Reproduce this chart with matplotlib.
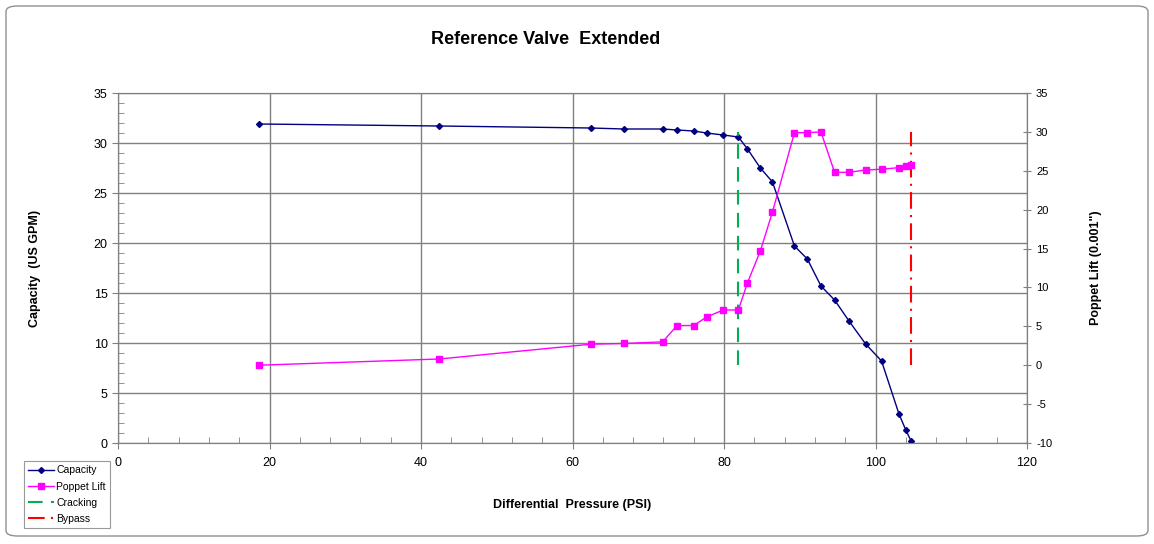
import numpy as np
import matplotlib.pyplot as plt
from matplotlib.patches import FancyBboxPatch
from matplotlib.ticker import MultipleLocator

plt.rcParams['font.family'] = ['Liberation Sans', 'DejaVu Sans']
plt.rcParams['axes.unicode_minus'] = False

# Differential pressure (PSI) for each measurement
pressure = [18.6, 42.4, 62.4, 66.8, 71.9, 73.8, 76.0, 77.7, 79.9, 81.9,
            83.1, 84.8, 86.4, 89.3, 91.0, 92.8, 94.6, 96.5, 98.7, 100.8,
            103.1, 104.0, 104.7]
# Capacity (US GPM)
capacity = [31.9, 31.7, 31.5, 31.4, 31.4, 31.3, 31.2, 31.0, 30.8, 30.6,
            29.4, 27.5, 26.1, 19.7, 18.4, 15.7, 14.3, 12.2, 9.9, 8.2,
            2.9, 1.3, 0.2]
# Poppet lift (0.001")
lift_p = [18.6, 42.4, 62.4, 66.8, 71.9, 73.8, 76.0, 77.7, 79.9, 81.9,
          83.1, 84.8, 86.4, 89.3, 91.0, 92.8, 94.6, 96.5, 98.7, 100.8,
          103.1, 104.0, 104.7]
lift = [0.0, 0.8, 2.7, 2.8, 3.0, 5.1, 5.1, 6.2, 7.1, 7.1,
        10.6, 14.7, 19.7, 29.9, 29.9, 30.0, 24.8, 24.8, 25.1, 25.2,
        25.4, 25.6, 25.7]

cracking_x = 81.9
bypass_x = 104.7
marker_range = [0, 30]

fig = plt.figure(figsize=(11.54, 5.44), dpi=100)
ax = fig.add_axes([118/1154, 1-443/544, (1027-118)/1154, (443-93)/544])
ax2 = ax.twinx()

# outer rounded frame
fig.patches.append(FancyBboxPatch((6/1154, 8/544), 1142/1154, 530/544,
                                  boxstyle="round,pad=0,rounding_size=0.01",
                                  transform=fig.transFigure, fill=False,
                                  edgecolor='#909090', linewidth=1))

l1, = ax.plot(pressure, capacity, color='#000080', lw=1, marker='D', ms=3,
              label='Capacity', zorder=5)
l2, = ax2.plot(lift_p, lift, color='#ff00ff', lw=1, marker='s', ms=5,
               label='Poppet Lift', zorder=5)
l3, = ax2.plot([cracking_x]*2, marker_range, color='#00b050', lw=1.5,
               ls=(0, (7, 4)), label='Cracking')
l4, = ax2.plot([bypass_x]*2, marker_range, color='#ff0000', lw=1.5,
               ls=(0, (8, 3, 1, 3)), label='Bypass')

ax.set_xlim(0, 120)
ax.set_ylim(0, 35)
ax2.set_ylim(-10, 35)
ax.xaxis.set_major_locator(MultipleLocator(20))
ax.xaxis.set_minor_locator(MultipleLocator(4))
ax.yaxis.set_major_locator(MultipleLocator(5))
ax.yaxis.set_minor_locator(MultipleLocator(1))
ax2.yaxis.set_major_locator(MultipleLocator(5))

ax.grid(True, which='major', color='#808080', lw=1)
ax.set_axisbelow(True)
ax.tick_params(which='major', direction='out', length=4, labelsize=9,
               colors='#808080', labelcolor='black')
ax.tick_params(axis='x', which='major', pad=6)
ax.tick_params(which='minor', direction='in', length=4, colors='#808080')
ax2.tick_params(which='major', direction='inout', length=6, labelsize=8,
                colors='#808080', labelcolor='black')
for a in (ax, ax2):
    for s in a.spines.values():
        s.set_color('#808080')

fig.text(546/1154, 1-40/544, 'Reference Valve  Extended', fontsize=13,
         fontweight='bold', ha='center', va='center')
ax.set_xlabel('Differential  Pressure (PSI)', fontsize=9, fontweight='bold', labelpad=22)
ax.set_ylabel('Capacity  (US GPM)', fontsize=9, fontweight='bold', labelpad=38)
ax2.set_ylabel('Poppet Lift (0.001")', fontsize=9, fontweight='bold', labelpad=27)

leg = fig.legend(handles=[l1, l2, l3, l4], loc='upper left',
                 bbox_to_anchor=(19/1154, 1-456/544), fontsize=7.5,
                 frameon=True, fancybox=False, edgecolor='#808080',
                 handlelength=2.5, handletextpad=0.2, borderpad=0.4,
                 labelspacing=0.6)
leg.get_frame().set_linewidth(0.8)

fig.savefig('out.png', dpi=100)
